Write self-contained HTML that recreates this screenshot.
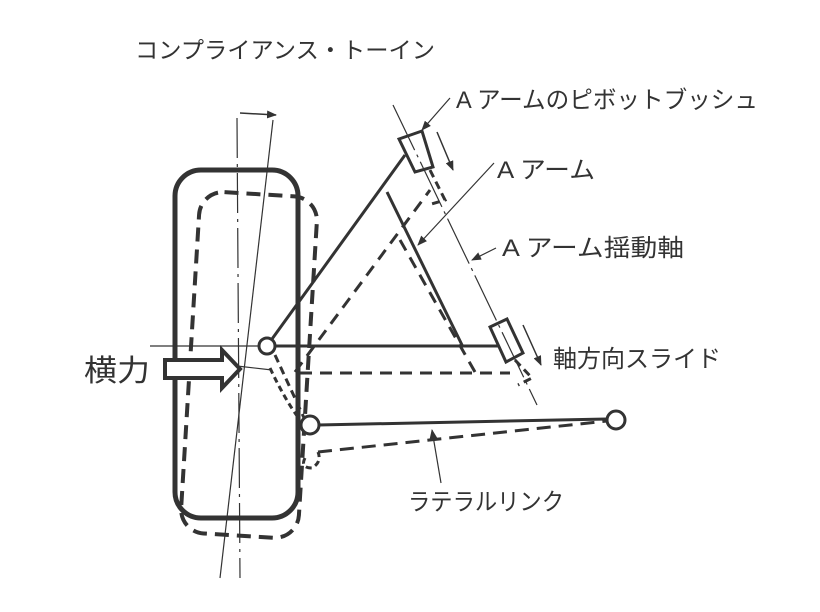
<!DOCTYPE html>
<html><head><meta charset="utf-8"><style>
html,body{margin:0;padding:0;background:#fff}
svg{display:block}
text{font-family:"Liberation Sans","Noto Sans CJK JP",sans-serif;fill:#333}
</style></head><body>
<svg width="820" height="612" viewBox="0 0 820 612" xmlns="http://www.w3.org/2000/svg">
<defs>
<marker id="ah" markerWidth="10" markerHeight="8" refX="9" refY="4" orient="auto" markerUnits="userSpaceOnUse">
<path d="M0,0 L10,4 L0,8 z" fill="#333"/></marker>
</defs>
<g stroke="#333" fill="none">
<rect x="175" y="170" width="123" height="348" rx="26" stroke-width="5"/>
<rect x="190" y="194" width="118" height="342" rx="24" stroke-width="4" stroke-dasharray="14,8" transform="rotate(3.5 250 365)"/>
<line x1="237" y1="118" x2="240" y2="578" stroke-width="1.2" stroke-dasharray="40,6,3,6"/>
<line x1="273" y1="120" x2="220" y2="578" stroke-width="1.2"/>
<line x1="240" y1="113" x2="276" y2="115" stroke-width="1.5" marker-end="url(#ah)"/>
<line x1="272" y1="339" x2="405" y2="155" stroke-width="3"/>
<line x1="387" y1="192" x2="463" y2="347" stroke-width="3"/>
<line x1="275" y1="346" x2="500" y2="346" stroke-width="3"/>
<polygon points="399,139 422,131 433,167 415,172" stroke-width="3" fill="#fff"/>
<polygon points="490,327 507,319 523,353 506,362" stroke-width="3" fill="#fff"/>
<line x1="295" y1="372" x2="430" y2="190" stroke-width="3" stroke-dasharray="12,8"/>
<line x1="300" y1="373" x2="510" y2="373" stroke-width="3" stroke-dasharray="12,8"/>
<line x1="400" y1="240" x2="475" y2="372" stroke-width="3" stroke-dasharray="12,8"/>
<polyline points="430,170 445,200 428,205" stroke-width="3" stroke-dasharray="8,5"/>
<polyline points="515,360 532,378 518,385" stroke-width="3" stroke-dasharray="8,5"/>
<line x1="393" y1="105" x2="537" y2="405" stroke-width="1.2" stroke-dasharray="50,5,3,5"/>
<line x1="437" y1="132" x2="453" y2="170" stroke-width="1.5" marker-end="url(#ah)"/>
<line x1="523" y1="325" x2="541" y2="365" stroke-width="1.5" marker-end="url(#ah)"/>
<line x1="318" y1="425" x2="607" y2="419" stroke-width="3"/>
<line x1="318" y1="452" x2="607" y2="421" stroke-width="3" stroke-dasharray="14,8"/>
<path d="M305,458 Q300,468 312,468 Q322,462 318,452" stroke-width="3" stroke-dasharray="6,4"/>
<line x1="237" y1="366" x2="272" y2="370" stroke-width="1.2"/>
<line x1="275" y1="355" x2="305" y2="420" stroke-width="3" stroke-dasharray="8,5"/>
<path d="M270,368 Q285,400 300,420" stroke-width="3" stroke-dasharray="6,4"/>
<line x1="150" y1="346" x2="260" y2="346" stroke-width="1.2"/>
<circle cx="267" cy="346" r="8" stroke-width="3" fill="#fff"/>
<circle cx="310" cy="425" r="9" stroke-width="3" fill="#fff"/>
<circle cx="616" cy="420" r="9" stroke-width="3" fill="#fff"/>
<polygon points="165,360 222,360 222,350 240,369 222,388 222,378 165,378" stroke-width="4" fill="#fff"/>
<line x1="450" y1="98" x2="422" y2="130" stroke-width="1.2" marker-end="url(#ah)"/>
<line x1="494" y1="163" x2="418" y2="245" stroke-width="1.2" marker-end="url(#ah)"/>
<line x1="496" y1="248" x2="472" y2="260" stroke-width="1.2" marker-end="url(#ah)"/>
<line x1="441" y1="483" x2="432" y2="430" stroke-width="1.2" marker-end="url(#ah)"/>
</g>
<text x="135" y="58" font-size="23" textLength="300" lengthAdjust="spacingAndGlyphs">コンプライアンス・トーイン</text>
<text x="456" y="108" font-size="24" textLength="302" lengthAdjust="spacingAndGlyphs">A アームのピボットブッシュ</text>
<text x="497" y="178" font-size="24" textLength="98" lengthAdjust="spacingAndGlyphs">A アーム</text>
<text x="502" y="256" font-size="24" textLength="182" lengthAdjust="spacingAndGlyphs">A アーム揺動軸</text>
<text x="553" y="367" font-size="24" textLength="168" lengthAdjust="spacingAndGlyphs">軸方向スライド</text>
<text x="84" y="381" font-size="30" textLength="66" lengthAdjust="spacingAndGlyphs">横力</text>
<text x="408" y="510" font-size="24" textLength="156" lengthAdjust="spacingAndGlyphs">ラテラルリンク</text>
</svg>
</body></html>
